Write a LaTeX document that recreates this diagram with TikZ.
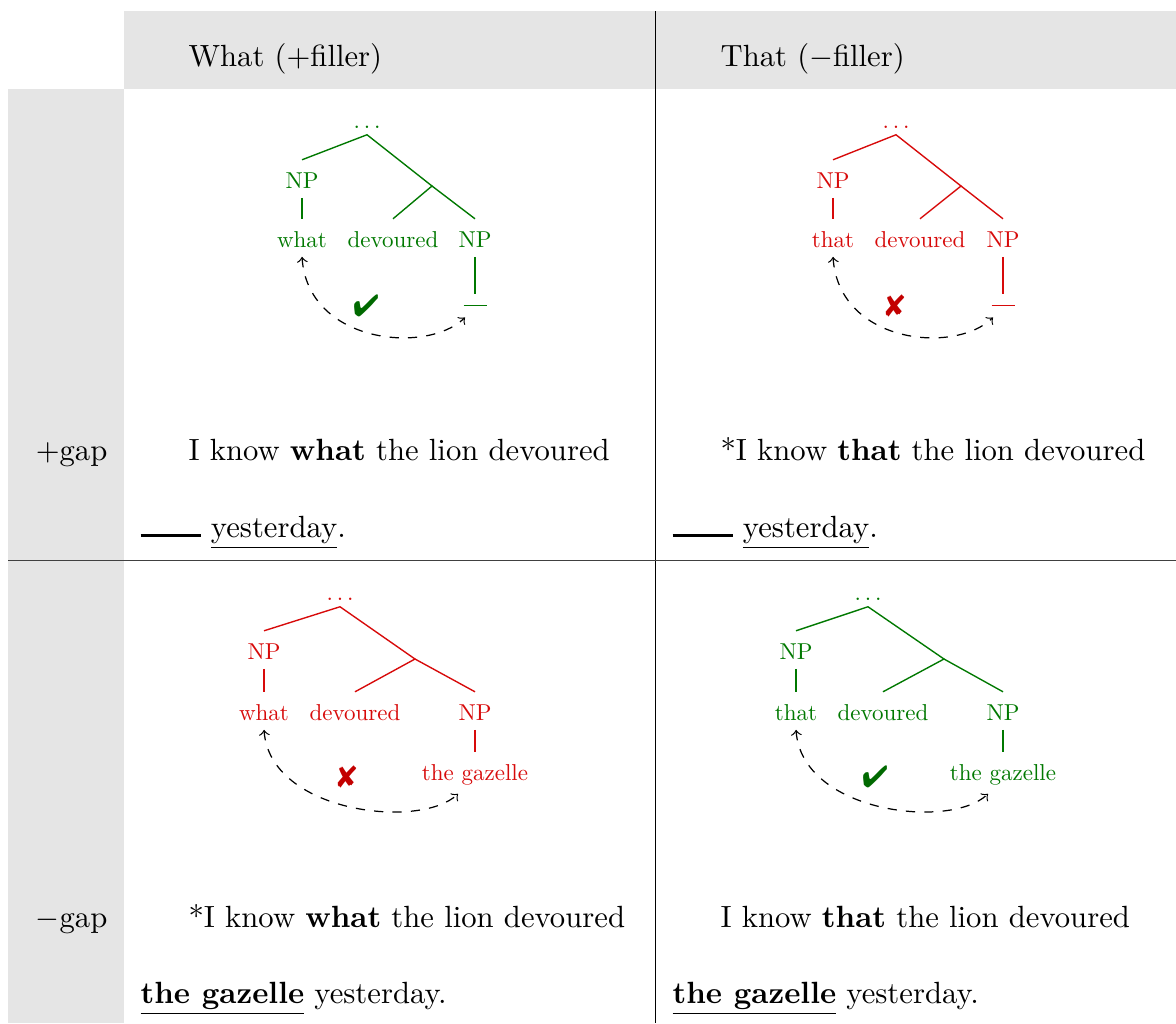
\documentclass[tikz,border=0pt]{standalone}
\usepackage{graphicx}
\usepackage{pifont}
\usetikzlibrary{calc}

\definecolor{okgreen}{RGB}{0,120,0}
\definecolor{badred}{RGB}{215,10,10}
\definecolor{okmark}{RGB}{0,105,0}
\definecolor{badmark}{RGB}{195,0,0}
\definecolor{band}{gray}{0.9}

% thick blank standing for the extraction site
\newcommand{\gapline}{\rule{19.6pt}{1.1pt}}
% tree labels: body type reduced to three quarters
\newcommand{\tw}[1]{\scalebox{0.75}{#1}}
% spaced dots for the elided upper structure
\newcommand{\topdots}{.\kern0.167em.\kern0.167em.}

\tikzset{
  lbl/.style={inner sep=0pt, anchor=base west},
  rowlbl/.style={inner sep=0pt, anchor=base east},
  tn/.style={anchor=base, inner xsep=1pt,
             inner ysep=3pt, text height=6pt, text depth=0pt},
  tnroot/.style={tn, inner ysep=2pt, text height=1pt},
  tngap/.style={anchor=base, inner xsep=0pt, inner ysep=3.2pt,
                text height=0.4pt, text depth=0pt},
  branch/.style={line width=0.45pt},
  gridline/.style={line width=0.4pt, black},
  move/.style={<->, dashed, line width=0.4pt, black},
  verdict/.style={font=\fontsize{10}{12}\selectfont, inner sep=0pt},
}

\begin{document}
\begin{tikzpicture}[x=0.326pt, y=-0.326pt]
\useasboundingbox (0,0) rectangle (1176,1023);

% table bands and rules
\fill[band] (124,11) rectangle (1176,89);
\fill[band] (8,89) rectangle (124,1023);
\draw[gridline] (655.5,11) -- (655.5,1023);
\draw[gridline, black!75] (8,560.5) -- (1176,560.5);

% headers
\node[lbl] (hwhat) at (188,66) {What ($+$filler)};
\node[lbl] (hthat) at (720,66) {That ($-$filler)};
\node[rowlbl] (rplus) at (108,460) {$+$gap};
\node[rowlbl] (rminus) at (108,927) {$-$gap};

% example sentences
\node[lbl] (s1a) at (188,460) {I know \textbf{what} the lion devoured};
\node[lbl] (s1b) at (140,537) {\gapline\ \underline{yesterday}.};
\node[lbl] (s2a) at (720,460) {*I know \textbf{that} the lion devoured};
\node[lbl] (s2b) at (672,537) {\gapline\ \underline{yesterday}.};
\node[lbl] (s3a) at (188,927) {*I know \textbf{what} the lion devoured};
\node[lbl] (s3b) at (140,1003) {\underline{\textbf{the gazelle}} yesterday.};
\node[lbl] (s4a) at (720,927) {I know \textbf{that} the lion devoured};
\node[lbl] (s4b) at (672,1003) {\underline{\textbf{the gazelle}} yesterday.};

% tree: what + gap
\begin{scope}[okgreen]
\node[tnroot] (aroot) at (367,128) {\tw{\topdots}};
\node[tn] (anp) at (302,188) {\tw{NP}};
\node[tn] (awh) at (302,247) {\tw{what}};
\node[tn] (adev) at (393,247) {\tw{devoured}};
\node[tn] (anpr) at (475,247) {\tw{NP}};
\node[tngap] (agap) at (475,306) {\rule{7.5pt}{0.4pt}};
\coordinate (ajoin) at (432,186);
\draw[branch] (anp.north) -- (aroot.south) -- (ajoin) -- (adev.north);
\draw[branch] (ajoin) -- (anpr.north);
\draw[branch] (anp.south) -- (awh.north);
\draw[branch] (anpr.south) -- (agap.north);
\end{scope}
\node[verdict, text=okmark] (aok) at (366,306) {\ding{52}};
\draw[move] (awh.south) .. controls +(6,87) and +(-38,37) .. ($(agap.south)+(-10,1)$);

% tree: that + gap
\begin{scope}[badred]
\node[tnroot] (broot) at (896,128) {\tw{\topdots}};
\node[tn] (bnp) at (833,188) {\tw{NP}};
\node[tn] (bth) at (833,247) {\tw{that}};
\node[tn] (bdev) at (920,247) {\tw{devoured}};
\node[tn] (bnpr) at (1003,247) {\tw{NP}};
\node[tngap] (bgap) at (1003,306) {\rule{7.5pt}{0.4pt}};
\coordinate (bjoin) at (961,186);
\draw[branch] (bnp.north) -- (broot.south) -- (bjoin) -- (bdev.north);
\draw[branch] (bjoin) -- (bnpr.north);
\draw[branch] (bnp.south) -- (bth.north);
\draw[branch] (bnpr.south) -- (bgap.north);
\end{scope}
\node[verdict, text=badmark] (bno) at (895,306) {\ding{56}};
\draw[move] (bth.south) .. controls +(6,87) and +(-38,37) .. ($(bgap.south)+(-10,1)$);

% tree: what, no gap
\begin{scope}[badred]
\node[tnroot] (croot) at (340,600) {\tw{\topdots}};
\node[tn] (cnp) at (264,659) {\tw{NP}};
\node[tn] (cwh) at (264,720) {\tw{what}};
\node[tn] (cdev) at (355,720) {\tw{devoured}};
\node[tn] (cnpr) at (475,720) {\tw{NP}};
\node[tn] (cgaz) at (475,780) {\tw{the gazelle}};
\coordinate (cjoin) at (415,659);
\draw[branch] (cnp.north) -- (croot.south) -- (cjoin) -- (cdev.north);
\draw[branch] (cjoin) -- (cnpr.north);
\draw[branch] (cnp.south) -- (cwh.north);
\draw[branch] (cnpr.south) -- (cgaz.north);
\end{scope}
\node[verdict, text=badmark] (cno) at (347,777) {\ding{56}};
\draw[move] (cwh.south) .. controls +(6,83) and +(-38,36) .. ($(cgaz.south)+(-17,4)$);

% tree: that, no gap
\begin{scope}[okgreen]
\node[tnroot] (droot) at (868,600) {\tw{\topdots}};
\node[tn] (dnp) at (796,659) {\tw{NP}};
\node[tn] (dth) at (796,720) {\tw{that}};
\node[tn] (ddev) at (883,720) {\tw{devoured}};
\node[tn] (dnpr) at (1003,720) {\tw{NP}};
\node[tn] (dgaz) at (1003,780) {\tw{the gazelle}};
\coordinate (djoin) at (944,659);
\draw[branch] (dnp.north) -- (droot.south) -- (djoin) -- (ddev.north);
\draw[branch] (djoin) -- (dnpr.north);
\draw[branch] (dnp.south) -- (dth.north);
\draw[branch] (dnpr.south) -- (dgaz.north);
\end{scope}
\node[verdict, text=okmark] (dok) at (875,777) {\ding{52}};
\draw[move] (dth.south) .. controls +(6,83) and +(-38,36) .. ($(dgaz.south)+(-15,4)$);

\end{tikzpicture}
\end{document}
